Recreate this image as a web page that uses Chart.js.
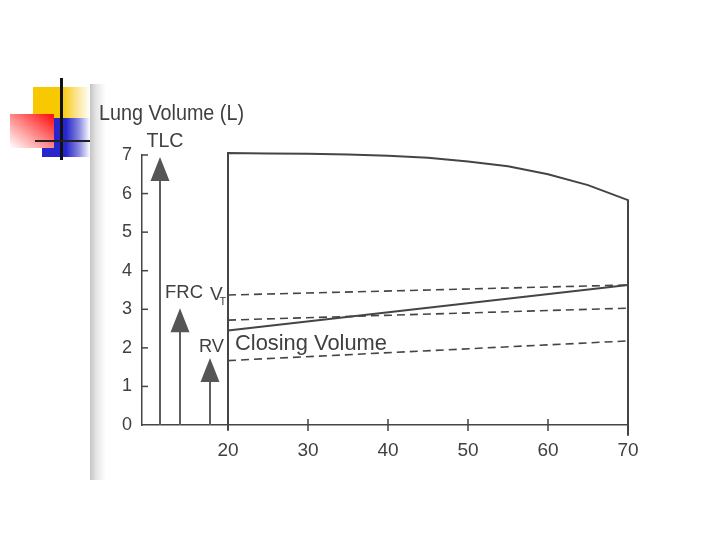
<!DOCTYPE html>
<html>
<head>
<meta charset="utf-8">
<style>
html,body{margin:0;padding:0;background:#fff;}
#wrap{position:relative;width:720px;height:540px;overflow:hidden;background:#fff;}
#wrap div{position:absolute;}
#strip{left:90px;top:84px;width:16px;height:396px;background:linear-gradient(to right,#c4c4c4,#e6e6e6 40%,rgba(255,255,255,0));}
#yellow{left:33px;top:87px;width:57px;height:32px;background:linear-gradient(to right,#f8c800 50%,#fbe28a 75%,#fff);}
#blue{left:42px;top:118px;width:48px;height:39px;background:linear-gradient(to right,#2626cc 50%,#8d8de2 78%,#fff);}
#red{left:10px;top:114px;width:44px;height:34px;background:linear-gradient(to bottom left,#ff1414 5%,#ff7a7a 45%,#fff 100%);}
#vbar{left:60px;top:78px;width:3px;height:82px;background:#111;}
#hbar{left:35px;top:140px;width:55px;height:2px;background:#222;}
canvas{position:absolute;left:0;top:0;}
</style>
<script src="https://cdn.jsdelivr.net/npm/chart.js@4/dist/chart.umd.min.js"></script>
</head>
<body>
<div id="wrap">
  <div id="strip"></div>
  <div id="yellow"></div>
  <div id="blue"></div>
  <div id="red"></div>
  <div id="vbar"></div>
  <div id="hbar"></div>
  <canvas id="canvas" width="720" height="540"></canvas>
</div>
<script>
// ages (years) and volumes (L)
const xTicks=[20,30,40,50,60,70];
const yTicks=[0,1,2,3,4,5,6,7];
// TLC curve, with the vertical edges at 20 and 70
const tlcAges=[20,20,25,30,35,40,45,50,55,60,65,70,70];
const tlcValues=[-0.13,7.05,7.04,7.03,7.01,6.98,6.93,6.83,6.71,6.50,6.22,5.83,-0.28];
const lineAges=[20,70];
const vtTopValues=[3.37,3.63];
const frcValues=[2.72,3.03];
const closingValues=[2.45,3.63];
const rvValues=[1.67,2.18];
// arrows on the left
const arrowAges=[11.5,14,17.75];
const arrowTops=[6.95,3.03,1.74];

const ink="#454545";
const textInk="#404040";
const fontName="'Liberation Sans', Arial, sans-serif";

function pts(xs,ys){return xs.map((v,i)=>({x:v,y:ys[i]}));}

const datasets=[
  {data:pts(tlcAges,tlcValues),borderColor:ink,borderWidth:2},
  {data:pts(lineAges,vtTopValues),borderColor:ink,borderWidth:1.6,borderDash:[8,5]},
  {data:pts(lineAges,frcValues),borderColor:ink,borderWidth:1.6,borderDash:[8,5]},
  {data:pts(lineAges,closingValues),borderColor:ink,borderWidth:2},
  {data:pts(lineAges,rvValues),borderColor:ink,borderWidth:1.6,borderDash:[8,5]}
];
arrowAges.forEach((a,i)=>{
  datasets.push({data:[{x:a,y:0},{x:a,y:arrowTops[i]-0.3}],borderColor:"#5e5e5e",borderWidth:2});
});

// text placed in data coordinates
const notes=[
  {t:"Lung Volume (L)",x:3.875,y:7.91,size:22,w:145,align:"left"},
  {t:"TLC",x:12.125,y:7.21,size:20,w:37,align:"center"},
  {t:"FRC",x:12.125,y:3.29,size:19,w:38,align:"left"},
  {t:"V",x:17.75,y:3.24,size:19,w:13,align:"left"},
  {t:"T",x:18.94,y:3.11,size:11,w:7,align:"left"},
  {t:"RV",x:16.375,y:1.89,size:19,w:25,align:"left"},
  {t:"Closing Volume",x:20.875,y:1.94,size:22,w:152,align:"left"}
];

const figurePlugin={
  id:"figure",
  afterDatasetsDraw(chart){
    const {ctx,scales:{x,y}}=chart;
    ctx.save();
    ctx.strokeStyle=ink;
    ctx.lineWidth=1.5;
    yTicks.forEach(v=>{
      if(v===0)return;
      const py=y.getPixelForValue(v);
      ctx.beginPath();ctx.moveTo(x.left,py);ctx.lineTo(x.left+6,py);ctx.stroke();
    });
    const y0=y.getPixelForValue(0);
    xTicks.forEach(v=>{
      const px=x.getPixelForValue(v);
      ctx.beginPath();ctx.moveTo(px,y0-6);ctx.lineTo(px,y0+6);ctx.stroke();
    });
    ctx.fillStyle="#555";
    arrowAges.forEach((a,i)=>{
      const px=x.getPixelForValue(a),py=y.getPixelForValue(arrowTops[i]);
      ctx.beginPath();ctx.moveTo(px,py);ctx.lineTo(px-9.5,py+24);ctx.lineTo(px+9.5,py+24);ctx.closePath();ctx.fill();
    });
    ctx.fillStyle=textInk;
    ctx.textBaseline="alphabetic";
    notes.forEach(n=>{
      ctx.font=n.size+"px "+fontName;
      ctx.textAlign=n.align;
      ctx.fillText(n.t,x.getPixelForValue(n.x),y.getPixelForValue(n.y),n.w);
    });
    ctx.restore();
  }
};

new Chart(document.getElementById("canvas"),{
  type:"line",
  data:{datasets:datasets},
  options:{
    responsive:false,
    animation:false,
    layout:{padding:{left:0,right:92,top:155,bottom:75}},
    datasets:{line:{clip:false,pointRadius:0,tension:0,fill:false}},
    plugins:{legend:{display:false},tooltip:{enabled:false},title:{display:false}},
    scales:{
      x:{
        type:"linear",min:9.25,max:70,
        afterFit(s){s.height=40;},
        afterBuildTicks(s){s.ticks=xTicks.map(v=>({value:v}));},
        grid:{display:false,drawTicks:false},
        border:{display:true,color:ink,width:1.5},
        ticks:{autoSkip:false,maxRotation:0,padding:14,color:textInk,font:{family:fontName,size:19}}
      },
      y:{
        min:0,max:7,
        afterFit(s){s.width=142;},
        afterBuildTicks(s){s.ticks=yTicks.map(v=>({value:v}));},
        grid:{display:false,drawTicks:false},
        border:{display:true,color:ink,width:1.5},
        ticks:{padding:10,color:textInk,font:{family:fontName,size:18}}
      }
    }
  },
  plugins:[figurePlugin]
});
</script>
</body>
</html>
